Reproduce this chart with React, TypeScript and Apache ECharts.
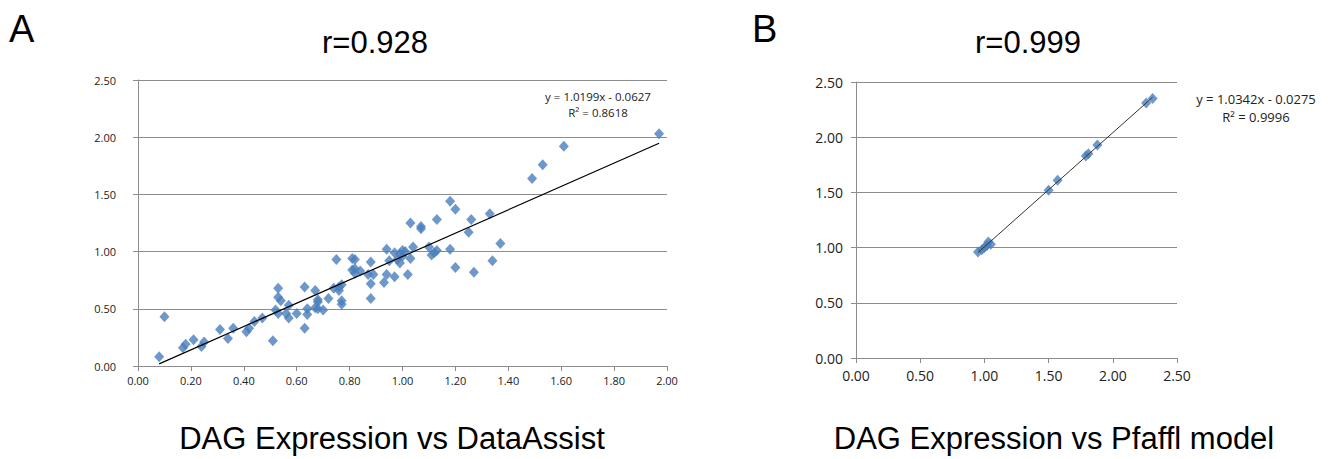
import React, { useEffect, useRef } from "react";
import * as echarts from "echarts";

// Panel A: DataAssist (x) vs DAG Expression (y)
const dataAssistX = [
  0.08, 0.10, 0.17, 0.18, 0.21, 0.24, 0.25, 0.31, 0.34, 0.36, 0.41, 0.42, 0.44, 0.47, 0.51, 0.52, 0.53, 0.53,
  0.53, 0.54, 0.56, 0.57, 0.57, 0.60, 0.63, 0.63, 0.64, 0.64, 0.67, 0.67, 0.68, 0.68, 0.68, 0.70, 0.72, 0.74,
  0.75, 0.76, 0.76, 0.77, 0.77, 0.77, 0.81, 0.81, 0.82, 0.82, 0.82, 0.84, 0.87, 0.88, 0.88, 0.88, 0.89, 0.93,
  0.94, 0.94, 0.95, 0.97, 0.97, 0.98, 0.99, 0.99, 1.00, 1.00, 1.01, 1.02, 1.03, 1.03, 1.04, 1.07, 1.07, 1.10,
  1.11, 1.12, 1.13, 1.13, 1.18, 1.18, 1.20, 1.20, 1.25, 1.26, 1.27, 1.33, 1.34, 1.37, 1.49, 1.53, 1.61, 1.97,
];
const dagYA = [
  0.08, 0.43, 0.16, 0.19, 0.23, 0.17, 0.21, 0.32, 0.24, 0.33, 0.30, 0.33, 0.39, 0.42, 0.22, 0.49, 0.60, 0.68,
  0.46, 0.57, 0.46, 0.42, 0.53, 0.46, 0.33, 0.69, 0.45, 0.50, 0.51, 0.66, 0.58, 0.50, 0.56, 0.49, 0.59, 0.68,
  0.93, 0.69, 0.66, 0.57, 0.54, 0.71, 0.84, 0.94, 0.93, 0.81, 0.85, 0.83, 0.80, 0.72, 0.59, 0.91, 0.80, 0.73,
  1.02, 0.80, 0.92, 0.78, 0.99, 0.93, 0.90, 0.98, 1.01, 0.96, 1.00, 0.80, 0.94, 1.25, 1.04, 1.22, 1.20, 1.04,
  0.97, 0.99, 1.01, 1.28, 1.02, 1.44, 1.37, 0.86, 1.17, 1.28, 0.82, 1.33, 0.92, 1.07, 1.64, 1.76, 1.92, 2.03,
];

// Panel B: Pfaffl model (x) vs DAG Expression (y)
const pfafflX = [0.95, 0.98, 1.00, 1.02, 1.03, 1.05, 1.50, 1.57, 1.79, 1.81, 1.88, 2.26, 2.31];
const dagYB = [0.96, 0.98, 1.00, 1.02, 1.05, 1.03, 1.52, 1.61, 1.83, 1.85, 1.93, 2.31, 2.35];

// Trendline coefficients (as printed on the chart)
const trendA = { slope: 1.0199, intercept: -0.0627, r2: "0.8618" };
const trendB = { slope: 1.0342, intercept: -0.0275, r2: "0.9996" };

const titleA = "r=0.928";
const titleB = "r=0.999";
const captionA = "DAG Expression vs DataAssist";
const captionB = "DAG Expression vs Pfaffl model";

const BLUE = "#4a7ebb";
const GRID = "#8c8c8c";
const LABEL_FONT = "'Open Sans', 'Liberation Sans', sans-serif";
const BIG_FONT = "'Liberation Sans', Arial, sans-serif";

function pairs(xs: number[], ys: number[]) {
  return xs.map((x, i) => [x, ys[i]]);
}

function trendPoints(xs: number[], t: { slope: number; intercept: number }) {
  const lo = Math.min(...xs);
  const hi = Math.max(...xs);
  return [
    [lo, t.slope * lo + t.intercept],
    [hi, t.slope * hi + t.intercept],
  ];
}

function axisCommon(fontSize: number, margin: number) {
  return {
    type: "value" as const,
    axisLine: { show: true, lineStyle: { color: GRID, width: 1 } },
    axisTick: { show: true, length: 5, lineStyle: { color: GRID, width: 1 } },
    axisLabel: {
      fontSize,
      color: "#222",
      margin,
      fontFamily: LABEL_FONT,
      formatter: (v: number) => v.toFixed(2),
    },
  };
}

export default function App() {
  const ref = useRef<HTMLDivElement>(null);

  useEffect(() => {
    if (!ref.current) return;
    const chart = echarts.init(ref.current, undefined, { renderer: "svg" });
    const fmt = (t: { slope: number; intercept: number; r2: string }) =>
      `y = ${t.slope.toFixed(4)}x - ${Math.abs(t.intercept).toFixed(4)}\nR² = ${t.r2}`;

    chart.setOption({
      animation: false,
      backgroundColor: "#ffffff",
      grid: [
        { left: 138, top: 80, width: 529, height: 286 },
        { left: 856, top: 82, width: 321, height: 276 },
      ],
      xAxis: [
        {
          ...axisCommon(11, 9),
          gridIndex: 0,
          min: 0,
          max: 2,
          interval: 0.2,
          splitLine: { show: false },
        },
        {
          ...axisCommon(14, 10),
          gridIndex: 1,
          min: 0,
          max: 2.5,
          interval: 0.5,
          splitLine: { show: false },
        },
      ],
      yAxis: [
        {
          ...axisCommon(11, 22),
          gridIndex: 0,
          min: 0,
          max: 2.5,
          interval: 0.5,
          splitLine: { show: true, lineStyle: { color: GRID, width: 1.2 } },
        },
        {
          ...axisCommon(14, 13),
          gridIndex: 1,
          min: 0,
          max: 2.5,
          interval: 0.5,
          splitLine: { show: true, lineStyle: { color: GRID, width: 1.2 } },
        },
      ],
      series: [
        {
          type: "scatter",
          xAxisIndex: 0,
          yAxisIndex: 0,
          symbol: "diamond",
          symbolSize: [10, 11],
          itemStyle: { color: BLUE },
          data: pairs(dataAssistX, dagYA),
          z: 2,
        },
        {
          type: "line",
          xAxisIndex: 0,
          yAxisIndex: 0,
          symbol: "none",
          lineStyle: { color: "#000", width: 1.2 },
          data: trendPoints(dataAssistX, trendA),
          z: 3,
          silent: true,
        },
        {
          type: "scatter",
          xAxisIndex: 1,
          yAxisIndex: 1,
          symbol: "diamond",
          symbolSize: [10, 11],
          itemStyle: { color: BLUE },
          data: pairs(pfafflX, dagYB),
          z: 2,
        },
        {
          type: "line",
          xAxisIndex: 1,
          yAxisIndex: 1,
          symbol: "none",
          lineStyle: { color: "#333", width: 1 },
          data: trendPoints(pfafflX, trendB),
          z: 3,
          silent: true,
        },
      ],
      graphic: [
        {
          type: "text",
          left: 9,
          top: 10,
          style: { text: "A", font: `38px ${BIG_FONT}`, fill: "#000" },
        },
        {
          type: "text",
          left: 752,
          top: 10,
          style: { text: "B", font: `38px ${BIG_FONT}`, fill: "#000" },
        },
        {
          type: "text",
          x: 375,
          y: 42,
          style: { text: titleA, font: `31px ${BIG_FONT}`, fill: "#000", align: "center", verticalAlign: "middle" },
        },
        {
          type: "text",
          x: 1028,
          y: 42,
          style: { text: titleB, font: `31px ${BIG_FONT}`, fill: "#000", align: "center", verticalAlign: "middle" },
        },
        {
          type: "text",
          x: 392,
          y: 438,
          style: { text: captionA, font: `31px ${BIG_FONT}`, fill: "#000", align: "center", verticalAlign: "middle" },
        },
        {
          type: "text",
          x: 1054,
          y: 438,
          style: { text: captionB, font: `31px ${BIG_FONT}`, fill: "#000", align: "center", verticalAlign: "middle" },
        },
        {
          type: "text",
          x: 598,
          y: 89,
          style: {
            text: fmt(trendA),
            font: `11.5px ${LABEL_FONT}`,
            fill: "#222",
            align: "center",
            verticalAlign: "top",
            lineHeight: 15.5,
          },
        },
        {
          type: "text",
          x: 1256,
          y: 90,
          style: {
            text: fmt(trendB),
            font: `13px ${LABEL_FONT}`,
            fill: "#222",
            align: "center",
            verticalAlign: "top",
            lineHeight: 18,
          },
        },
      ],
    });

    return () => chart.dispose();
  }, []);

  return (
    <div
      ref={ref}
      style={{ position: "fixed", left: 0, top: 0, width: "1336px", height: "459px", background: "#fff" }}
    />
  );
}
